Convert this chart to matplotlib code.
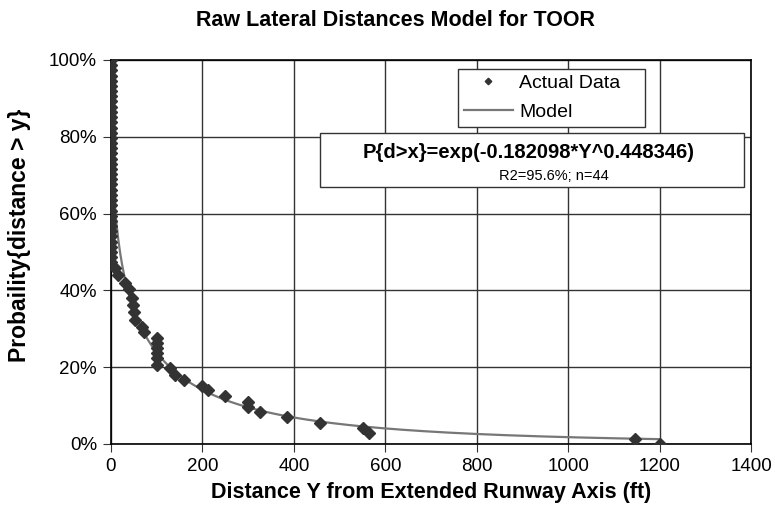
import numpy as np
import matplotlib
matplotlib.use("Agg")
import matplotlib.pyplot as plt
from matplotlib.patches import Rectangle
from matplotlib.ticker import PercentFormatter

plt.rcParams['font.family'] = ['Liberation Sans', 'DejaVu Sans']

# observed lateral distances (ft) and exceedance probabilities (%)
dist_zero = [0] * 40
prob_zero = [100, 98.6, 97.3, 95.9, 94.6, 93.2, 91.9, 90.5, 89.2, 87.8,
             86.5, 85.1, 83.8, 82.4, 81.1, 79.7, 78.4, 77.0, 75.7, 74.3,
             73.0, 71.6, 70.3, 68.9, 67.6, 66.2, 64.9, 63.5, 62.2, 60.8,
             59.5, 58.1, 56.8, 55.4, 54.1, 52.7, 51.4, 50.0, 48.6, 47.3]
dist_rest = [9, 15, 31, 39, 46, 48, 50, 52, 68, 72,
             100, 100, 100, 100, 100, 100, 129, 140, 160, 199,
             213, 250, 300, 300, 326, 386, 457, 551, 565, 1147, 1200]
prob_rest = [45.8, 44.0, 41.9, 40.4, 38.0, 36.2, 34.4, 32.3, 30.5, 29.2,
             27.6, 26.3, 25.0, 23.7, 22.4, 20.6, 19.8, 18.0, 16.7, 15.2,
             14.1, 12.5, 11.0, 9.6, 8.3, 7.0, 5.5, 4.2, 2.9, 1.3, 0.0]

dist = dist_zero + dist_rest
prob = prob_zero + prob_rest

# fitted model P{d>y} = exp(-a*y^b)
a, b = 0.182098, 0.448346
y_model = np.linspace(0, 1200, 600)
p_model = 100 * np.exp(-a * y_model ** b)

fig = plt.figure(figsize=(7.75, 5.12), dpi=100)
ax = fig.add_axes([111/775, 1 - 444/512, 640/775, 384/512])
ft = fig.transFigure

ax.plot(y_model, p_model, color='#777777', lw=1.6, label='Model', zorder=3)
ax.plot(dist, prob, linestyle='none', marker='D', ms=6, color='#333333',
        label='Actual Data', zorder=4)

ax.set_xlim(0, 1400)
ax.set_ylim(0, 100)
ax.set_xticks(np.arange(0, 1401, 200))
ax.set_yticks(np.arange(0, 101, 20))
ax.yaxis.set_major_formatter(PercentFormatter(decimals=0))
ax.grid(True, color='#333333', lw=1)
ax.set_axisbelow(True)
for s in ax.spines.values():
    s.set_color('black')
    s.set_linewidth(1.2)
ax.tick_params(labelsize=13.5, direction='out', length=6, color='#333333',
               pad=4)

ax.set_xlabel('Distance Y from Extended Runway Axis (ft)', fontsize=15.5,
              fontweight='bold', labelpad=5)
ax.set_ylabel('Probaility{distance > y}', fontsize=16.5, fontweight='bold')
ax.yaxis.set_label_coords(-0.125, 0.544)
fig.text(395/775, 1 - 20/512, 'Raw Lateral Distances Model for TOOR',
         ha='center', va='center', fontsize=15.5, fontweight='bold')

# legend box drawn separately so it keeps the wide right margin
ax.add_patch(Rectangle((458/775, 1 - 127/512), 187/775, 58/512,
                       transform=ft, facecolor='white', edgecolor='#333333',
                       lw=1, zorder=5, clip_on=False))
h, l = ax.get_legend_handles_labels()
leg = ax.legend(h[::-1], l[::-1], loc='upper left',
                bbox_to_anchor=(460/775, 1 - 70/512),
                bbox_transform=ft, fontsize=14,
                frameon=False, handlelength=2.5, handletextpad=0.35,
                borderpad=0.2, labelspacing=0.6, markerscale=0.55,
                borderaxespad=0)
leg.set_zorder(6)

# equation box
ax.add_patch(Rectangle((320/775, 1 - 187/512), 424/775, 54/512,
                       transform=ft, facecolor='white', edgecolor='#333333',
                       lw=1, zorder=7, clip_on=False))
ax.text(529/775, 1 - 152/512, 'P{d>x}=exp(-0.182098*Y^0.448346)',
        transform=ft, ha='center', va='center', fontsize=14.5,
        fontweight='bold', zorder=8)
ax.text(554/775, 1 - 176/512, 'R2=95.6%; n=44', transform=ft,
        ha='center', va='center', fontsize=10.5, zorder=8)

fig.savefig('out.png', dpi=100)
